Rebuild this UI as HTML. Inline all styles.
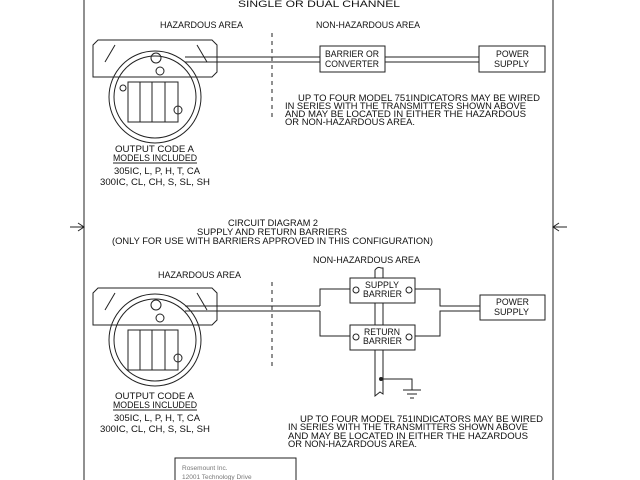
<!DOCTYPE html>
<html><head><style>
html,body{margin:0;padding:0;background:#fff;}
svg{display:block;}
text{font-family:"Liberation Sans",sans-serif;fill:#111;}
</style></head><body>
<svg width="640" height="480" viewBox="0 0 640 480" xmlns="http://www.w3.org/2000/svg">
<g stroke="#222" fill="none" stroke-width="1">
<line x1="84" y1="0" x2="84" y2="480"/>
<line x1="553" y1="0" x2="553" y2="480"/>
<line x1="70" y1="227" x2="84" y2="227"/><path d="M78 223 L84 227 L78 231"/>
<line x1="553" y1="227" x2="567" y2="227"/><path d="M559 223 L553 227 L559 231"/>
<line x1="272" y1="33" x2="272" y2="120" stroke-dasharray="4,4"/>
<path d="M93 45 L98 40 L212 40 L217 45 L217 72 L212 77 L93 77 Z"/>
<circle cx="155" cy="97" r="46"/><circle cx="155" cy="97" r="41"/>
<rect x="128" y="82" width="50" height="40"/>
<line x1="140" y1="82" x2="140" y2="122"/><line x1="152" y1="82" x2="152" y2="122"/><line x1="165" y1="82" x2="165" y2="122"/>
<circle cx="156" cy="58" r="5"/><circle cx="160" cy="71" r="4"/><circle cx="178" cy="110" r="4"/><circle cx="123" cy="88" r="3"/>
<line x1="105" y1="62" x2="115" y2="45"/><line x1="197" y1="45" x2="207" y2="62"/>
<line x1="185" y1="57" x2="320" y2="57"/><line x1="185" y1="62" x2="320" y2="62"/>
<rect x="320" y="46" width="65" height="26"/>
<line x1="385" y1="57" x2="479" y2="57"/><line x1="385" y1="62" x2="479" y2="62"/>
<rect x="479" y="46" width="66" height="26"/>
<line x1="113" y1="163" x2="197" y2="163"/>
<line x1="272" y1="282" x2="272" y2="370" stroke-dasharray="4,4"/>
<path d="M93 293 L98 288 L212 288 L217 293 L217 320 L212 325 L93 325 Z"/>
<circle cx="155" cy="340" r="46"/><circle cx="155" cy="340" r="41"/>
<rect x="128" y="330" width="50" height="40"/>
<line x1="140" y1="330" x2="140" y2="370"/><line x1="152" y1="330" x2="152" y2="370"/><line x1="165" y1="330" x2="165" y2="370"/>
<circle cx="156" cy="305" r="5"/><circle cx="160" cy="318" r="4"/><circle cx="178" cy="358" r="4"/>
<line x1="105" y1="310" x2="115" y2="293"/><line x1="197" y1="293" x2="207" y2="310"/>
<line x1="185" y1="306" x2="320" y2="306"/><line x1="185" y1="311" x2="320" y2="311"/>
<path d="M320 306 L320 289 L350 289"/><path d="M320 311 L320 336 L350 336"/>
<rect x="350" y="278" width="65" height="25"/><rect x="350" y="325" width="65" height="25"/>
<circle cx="356" cy="290" r="3"/><circle cx="409" cy="290" r="3"/>
<circle cx="356" cy="337" r="3"/><circle cx="409" cy="337" r="3"/>
<path d="M415 289 L440 289 L440 306 L480 306"/><path d="M415 336 L440 336 L440 311 L480 311"/>
<rect x="480" y="295" width="65" height="25"/>
<path d="M375 278 L375 270 Q378 266 381 268 L383 268 L383 278"/>
<line x1="375" y1="303" x2="375" y2="325"/><line x1="383" y1="303" x2="383" y2="325"/>
<path d="M375 350 L375 396 L380 392 L383 394 L383 350"/>
<path d="M381 379 L412 379 L412 390"/><circle cx="381" cy="379" r="1.5" fill="#222"/>
<line x1="403" y1="390" x2="421" y2="390"/><line x1="407" y1="394" x2="417" y2="394"/><line x1="410" y1="398" x2="414" y2="398"/>
<line x1="113" y1="410" x2="197" y2="410"/>
<rect x="175" y="458" width="121" height="30"/>
</g>
<g font-size="9" lengthAdjust="spacingAndGlyphs">
<text x="238" y="7" textLength="162" lengthAdjust="spacingAndGlyphs">SINGLE OR DUAL CHANNEL</text>
<text x="160" y="28" textLength="83" lengthAdjust="spacingAndGlyphs">HAZARDOUS AREA</text>
<text x="316" y="28" textLength="104" lengthAdjust="spacingAndGlyphs">NON-HAZARDOUS AREA</text>
<text x="325" y="57" textLength="54" lengthAdjust="spacingAndGlyphs">BARRIER OR</text>
<text x="325" y="67" textLength="54" lengthAdjust="spacingAndGlyphs">CONVERTER</text>
<text x="496" y="57" textLength="33" lengthAdjust="spacingAndGlyphs">POWER</text>
<text x="494" y="67" textLength="35" lengthAdjust="spacingAndGlyphs">SUPPLY</text>
<text x="115" y="152" textLength="79" lengthAdjust="spacingAndGlyphs">OUTPUT CODE A</text>
<text x="113" y="161" textLength="84" lengthAdjust="spacingAndGlyphs">MODELS INCLUDED</text>
<text x="114" y="174" textLength="86" lengthAdjust="spacingAndGlyphs">305IC, L, P, H, T, CA</text>
<text x="100" y="185" textLength="110" lengthAdjust="spacingAndGlyphs">300IC, CL, CH, S, SL, SH</text>
<text x="228" y="226" textLength="90" lengthAdjust="spacingAndGlyphs">CIRCUIT DIAGRAM 2</text>
<text x="197" y="235" textLength="150" lengthAdjust="spacingAndGlyphs">SUPPLY AND RETURN BARRIERS</text>
<text x="112" y="244" textLength="321" lengthAdjust="spacingAndGlyphs">(ONLY FOR USE WITH BARRIERS APPROVED IN THIS CONFIGURATION)</text>
<text x="313" y="263" textLength="107" lengthAdjust="spacingAndGlyphs">NON-HAZARDOUS AREA</text>
<text x="158" y="278" textLength="83" lengthAdjust="spacingAndGlyphs">HAZARDOUS AREA</text>
<text x="365" y="288" textLength="34" lengthAdjust="spacingAndGlyphs">SUPPLY</text>
<text x="363" y="297" textLength="39" lengthAdjust="spacingAndGlyphs">BARRIER</text>
<text x="364" y="335" textLength="36" lengthAdjust="spacingAndGlyphs">RETURN</text>
<text x="363" y="344" textLength="39" lengthAdjust="spacingAndGlyphs">BARRIER</text>
<text x="496" y="305" textLength="33" lengthAdjust="spacingAndGlyphs">POWER</text>
<text x="494" y="315" textLength="35" lengthAdjust="spacingAndGlyphs">SUPPLY</text>
<text x="115" y="399" textLength="79" lengthAdjust="spacingAndGlyphs">OUTPUT CODE A</text>
<text x="113" y="408" textLength="84" lengthAdjust="spacingAndGlyphs">MODELS INCLUDED</text>
<text x="114" y="421" textLength="86" lengthAdjust="spacingAndGlyphs">305IC, L, P, H, T, CA</text>
<text x="100" y="432" textLength="110" lengthAdjust="spacingAndGlyphs">300IC, CL, CH, S, SL, SH</text>
<text x="298" y="101" textLength="242" lengthAdjust="spacingAndGlyphs">UP TO FOUR MODEL 751INDICATORS MAY BE WIRED</text>
<text x="285" y="109" textLength="241" lengthAdjust="spacingAndGlyphs">IN SERIES WITH THE TRANSMITTERS SHOWN ABOVE</text>
<text x="285" y="117" textLength="241" lengthAdjust="spacingAndGlyphs">AND MAY BE LOCATED IN EITHER THE HAZARDOUS</text>
<text x="285" y="125" textLength="130" lengthAdjust="spacingAndGlyphs">OR NON-HAZARDOUS AREA.</text>
<text x="300" y="422" textLength="243" lengthAdjust="spacingAndGlyphs">UP TO FOUR MODEL 751INDICATORS MAY BE WIRED</text>
<text x="288" y="430" textLength="240" lengthAdjust="spacingAndGlyphs">IN SERIES WITH THE TRANSMITTERS SHOWN ABOVE</text>
<text x="288" y="439" textLength="240" lengthAdjust="spacingAndGlyphs">AND MAY BE LOCATED IN EITHER THE HAZARDOUS</text>
<text x="288" y="447" textLength="129" lengthAdjust="spacingAndGlyphs">OR NON-HAZARDOUS AREA.</text>
</g>
<text x="182" y="470" font-size="6.5" style="fill:#777">Rosemount Inc.</text>
<text x="182" y="479" font-size="6.5" style="fill:#777">12001 Technology Drive</text>
</svg>
</body></html>
